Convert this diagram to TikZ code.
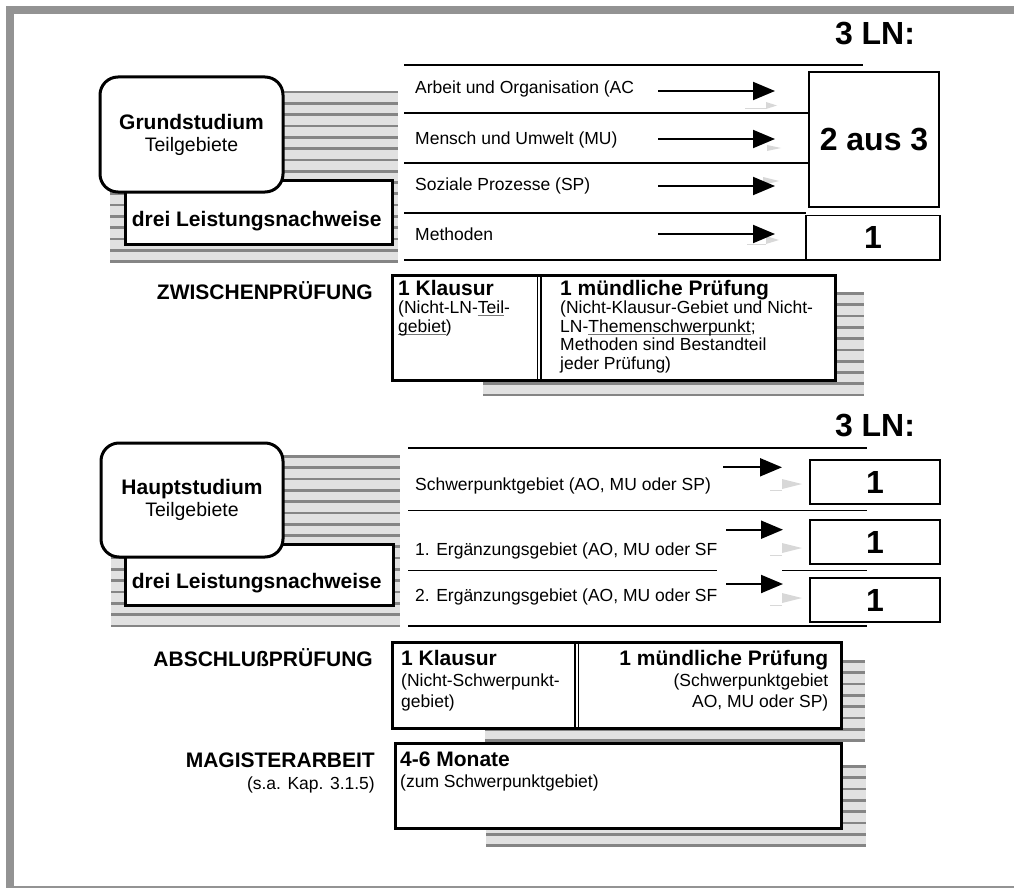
\documentclass[tikz,border=0pt]{standalone}
\usepackage{fontspec}
\setmainfont{Liberation Sans}
\usetikzlibrary{arrows.meta}
\definecolor{framegray}{HTML}{939393}
\definecolor{stripedark}{HTML}{858585}
\definecolor{stripelight}{HTML}{E1E1E1}
\definecolor{ghostgray}{HTML}{D8D8D8}
\definecolor{ulgray}{HTML}{777777}
\newcommand\stripebox[4]{%
  \begin{scope}
    \clip (#1,#2) rectangle (#3,#4);
    \fill[stripelight] (#1,#2) rectangle (#3,#4);
    \foreach \k in {0,...,16} {\fill[stripedark] (#1,#2+\k*11.3) rectangle (#3,#2+\k*11.3+2.7);}
  \end{scope}}
\newcommand\gul[1]{\setbox0\hbox{#1}\rlap{\color{ulgray}\rule[-2.4pt]{\wd0}{0.9pt}}\box0}
\newcommand\titlefont{\bfseries\fontsize{21}{19}\selectfont}
\tikzset{
  roundbox/.style={draw, line width=3pt, rounded corners=18pt, fill=white, inner sep=0pt, outer sep=0pt, anchor=north west, align=center, font=\fontsize{19.5}{22}\selectfont},
  plainbox/.style={draw, line width=3pt, fill=white, inner sep=0pt, outer sep=0pt, anchor=north west},
  numbox/.style={draw, line width=1.6pt, fill=white, inner sep=0pt, outer sep=0pt, anchor=north west, font=\bfseries\fontsize{32}{32}\selectfont},
  rowline/.style={line width=1.5pt},
  rowtext/.style={anchor=base west, inner sep=0pt, font=\fontsize{17.5}{17.5}\selectfont},
  boldlabel/.style={anchor=base, inner sep=0pt, font=\bfseries\fontsize{21}{21}\selectfont},
  heading/.style={anchor=base east, inner sep=0pt, font=\bfseries\fontsize{21}{21}\selectfont},
  biglabel/.style={anchor=base, inner sep=0pt, font=\bfseries\fontsize{32}{32}\selectfont},
  boxtext/.style={inner sep=0pt, font=\fontsize{17.5}{18.5}\selectfont},
  bigarrow/.style={line width=2pt, -{Triangle[length=22pt,width=18pt]}},
  ghosthead/.style={fill=ghostgray},
  ghostline/.style={draw=ghostgray, line width=1pt},
}
\begin{document}
\begin{tikzpicture}[x=1pt,y=-1pt]
\useasboundingbox (0,0) rectangle (1014,888);
% frame
\fill[framegray] (6,6) rectangle (1014,14);
\fill[framegray] (6,6) rectangle (14,888);
\fill[framegray] (14,886) rectangle (1014,888);

% striped shadows
\stripebox{110}{90.7}{398}{262.9}
\stripebox{483}{292}{864}{396.4}
\stripebox{111}{455}{400}{627.2}
\stripebox{485}{660}{865}{741.8}
\stripebox{486}{765}{866}{846.8}

% ===== Grundstudium =====
\node[plainbox, minimum width=267pt, minimum height=64pt] (gsbox) at (125,180) {};
\node[roundbox, minimum width=183pt, minimum height=115pt] (gs) at (100,77)
  {{\bfseries\fontsize{21}{22}\selectfont Grundstudium}\\Teilgebiete};
\node[boldlabel] (gsln) at (256.7,226) {drei Leistungsnachweise};

\node[biglabel] (ln1) at (875,45) {3 LN:};
\draw[rowline] (404,65) -- (863,65);
\draw[rowline] (404,113) -- (809,113);
\draw[rowline] (404,163) -- (809,163);
\draw[rowline] (404,213) -- (806,213);
\draw[rowline] (404,260) -- (806,260);

\node[rowtext] (t1) at (415,94) {Arbeit und Organisation (AC};
\node[rowtext] (t2) at (415,144) {Mensch und Umwelt (MU)};
\node[rowtext] (t3) at (415,190) {Soziale Prozesse (SP)};
\node[rowtext] (t4) at (415,240) {Methoden};

\node[numbox, minimum width=130pt, minimum height=135pt] (b23) at (809,72) {2 aus 3};
\node[numbox, minimum width=134pt, minimum height=44.5pt] (b1) at (806,215.5) {1};

% ghost heads (top)
\fill[ghosthead] (766,102) -- (777,105.5) -- (766,109) -- cycle;
\draw[ghostline] (745,109) -- (766,109);
\fill[ghosthead] (767,145) -- (781,148) -- (767,151) -- cycle;
\fill[ghosthead] (763,177) -- (779,181) -- (763,185) -- cycle;
\fill[ghosthead] (766,236) -- (779,240) -- (766,244) -- cycle;
\draw[ghostline] (747,244) -- (766,244);

\coordinate (a1s) at (658,91);  \coordinate (a1e) at (775,91);
\coordinate (a2s) at (658,139); \coordinate (a2e) at (775,139);
\coordinate (a3s) at (658,186); \coordinate (a3e) at (775,186);
\coordinate (a4s) at (658,234); \coordinate (a4e) at (775,234);
\draw[bigarrow] (a1s) -- (a1e);
\draw[bigarrow] (a2s) -- (a2e);
\draw[bigarrow] (a3s) -- (a3e);
\draw[bigarrow] (a4s) -- (a4e);

% ===== Zwischenpruefung =====
\node[heading] (zph) at (373,299) {ZWISCHENPRÜFUNG};
\node[plainbox, minimum width=443pt, minimum height=105pt] (zp) at (392,275) {};
\draw[line width=1.2pt] (537.5,275) -- (537.5,380);
\draw[line width=1.2pt] (541,275) -- (541,380);
\draw[line width=3pt] (392,275) rectangle (835,380);
\node[boxtext, anchor=north west, align=left] (zpl) at (398,280)
  {{\titlefont 1 Klausur}\\(Nicht-LN-\gul{Teil}-\\\gul{gebiet})};
\node[boxtext, anchor=north west, align=left] (zpr) at (560,280)
  {{\titlefont 1 mündliche Prüfung}\\(Nicht-Klausur-Gebiet und Nicht-\\LN-\gul{Themenschwerpunkt};\\Methoden sind Bestandteil\\jeder Prüfung)};

% ===== Hauptstudium =====
\node[plainbox, minimum width=268pt, minimum height=61pt] (hsbox) at (125,544) {};
\node[roundbox, minimum width=182pt, minimum height=114pt] (hs) at (101,443)
  {{\bfseries\fontsize{21}{22}\selectfont Hauptstudium}\\Teilgebiete};
\node[boldlabel] (hsln) at (256.7,588) {drei Leistungsnachweise};

\node[biglabel] (ln2) at (875,436) {3 LN:};
\draw[rowline] (408,448) -- (867,448);
\draw[rowline] (408,510.7) -- (867,510.7);
\draw[rowline] (408,570.7) -- (717,570.7);
\draw[rowline] (782,570.7) -- (867,570.7);
\draw[rowline] (408,626) -- (867,626);

\node[rowtext] (u1) at (415,490) {Schwerpunktgebiet (AO, MU oder SP)};
\node[rowtext] (u2) at (415,555) {1. Ergänzungsgebiet (AO, MU oder SF};
\node[rowtext] (u3) at (415,601.5) {2. Ergänzungsgebiet (AO, MU oder SF};

\node[numbox, minimum width=130pt, minimum height=44pt] (c1) at (810,460) {1};
\node[numbox, minimum width=130pt, minimum height=44pt] (c2) at (810,520) {1};
\node[numbox, minimum width=130pt, minimum height=44pt] (c3) at (810,578) {1};

\fill[ghosthead] (782,479) -- (802,484) -- (782,489) -- cycle;
\draw[ghostline] (770,490) -- (782,490);
\fill[ghosthead] (782,543) -- (802,548) -- (782,553) -- cycle;
\draw[ghostline] (770,555) -- (782,555);
\fill[ghosthead] (782,593) -- (802,598) -- (782,603) -- cycle;
\draw[ghostline] (770,605) -- (782,605);

\coordinate (d1s) at (723,467.3); \coordinate (d1e) at (782,467.3);
\coordinate (d2s) at (726,529.7); \coordinate (d2e) at (783,529.7);
\coordinate (d3s) at (726,584); \coordinate (d3e) at (783,584);
\draw[bigarrow] (d1s) -- (d1e);
\draw[bigarrow] (d2s) -- (d2e);
\draw[bigarrow] (d3s) -- (d3e);

% ===== Abschlusspruefung =====
\node[heading] (aph) at (373,666) {ABSCHLUßPRÜFUNG};
\node[plainbox, minimum width=449pt, minimum height=86pt] (ap) at (392.5,642) {};
\draw[line width=1.2pt] (575,642) -- (575,728);
\draw[line width=1.2pt] (578.5,642) -- (578.5,728);
\draw[line width=3pt] (392.5,642) rectangle (841.5,728);
\node[boxtext, anchor=north west, align=left, font=\fontsize{17.5}{21}\selectfont] (apl) at (401,650.5)
  {{\titlefont 1 Klausur}\\(Nicht-Schwerpunkt-\\gebiet)};
\node[boxtext, anchor=north east, align=right, font=\fontsize{17.5}{21}\selectfont] (apr) at (828.5,650.5)
  {{\titlefont 1 mündliche Prüfung}\\(Schwerpunktgebiet\\AO, MU oder SP)};

% ===== Magisterarbeit =====
\node[heading] (mah) at (375,767) {MAGISTERARBEIT};
\node[anchor=base east, inner sep=0pt, font=\fontsize{17.5}{17.5}\selectfont] (mas) at (375,789) {(s.a. Kap. 3.1.5)};
\node[plainbox, minimum width=446pt, minimum height=85pt] (ma) at (395,743) {};
\node[boxtext, anchor=north west, align=left, font=\fontsize{17.5}{21}\selectfont] (mat) at (400,751.5)
  {{\titlefont 4-6 Monate}\\(zum Schwerpunktgebiet)};
\end{tikzpicture}
\end{document}
